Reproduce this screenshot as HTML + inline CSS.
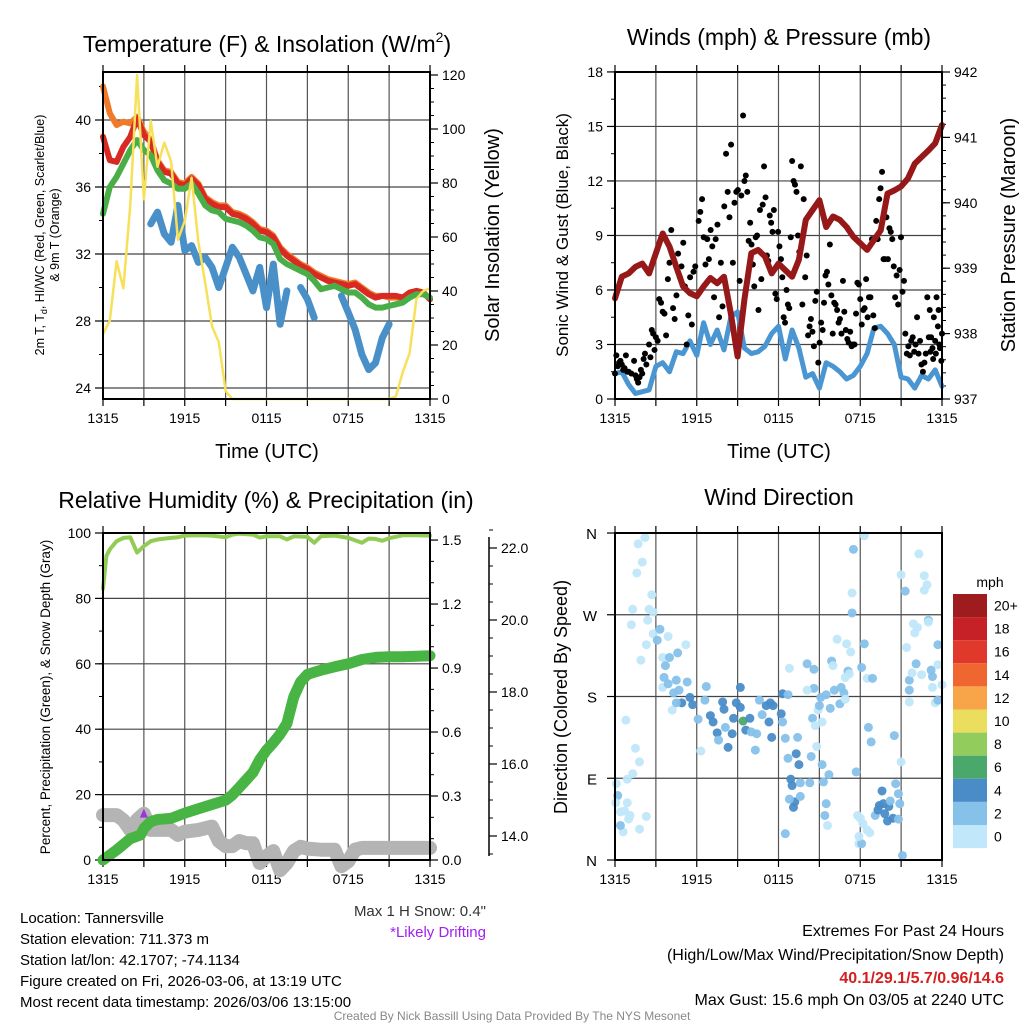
<!DOCTYPE html>
<html><head><meta charset="utf-8">
<style>
html,body{margin:0;padding:0;background:#fff;}
svg{display:block;font-family:"Liberation Sans",Arial,sans-serif;}
</style></head>
<body>
<svg id="chart" width="1024" height="1024" viewBox="0 0 1024 1024" xmlns="http://www.w3.org/2000/svg">
<rect width="1024" height="1024" fill="#fff"/>
<text x="267" y="52" font-size="23" text-anchor="middle">Temperature (F) &amp; Insolation (W/m<tspan font-size="14" dy="-10">2</tspan><tspan dy="10">)</tspan></text>
<text x="779" y="45" font-size="23" text-anchor="middle">Winds (mph) &amp; Pressure (mb)</text>
<text x="266" y="508" font-size="23" text-anchor="middle">Relative Humidity (%) &amp; Precipitation (in)</text>
<text x="779" y="505" font-size="23" text-anchor="middle">Wind Direction</text>
<text x="267" y="458" font-size="20" text-anchor="middle">Time (UTC)</text>
<text x="779" y="458" font-size="20" text-anchor="middle">Time (UTC)</text>
<text transform="translate(44,235) rotate(-90)" font-size="12.5" text-anchor="middle">2m T, T<tspan font-size="9" dy="3">d</tspan><tspan dy="-3">, HI/WC (Red, Green, Scarlet/Blue)</tspan></text>
<text transform="translate(59,235) rotate(-90)" font-size="12.5" text-anchor="middle">&amp; 9m T (Orange)</text>
<text transform="translate(499,235) rotate(-90)" font-size="20" text-anchor="middle">Solar Insolation (Yellow)</text>
<text transform="translate(568,235) rotate(-90)" font-size="17" text-anchor="middle">Sonic Wind &amp; Gust (Blue, Black)</text>
<text transform="translate(1015,235) rotate(-90)" font-size="20" text-anchor="middle">Station Pressure (Maroon)</text>
<text transform="translate(50,697) rotate(-90)" font-size="13.5" text-anchor="middle">Percent, Precipitation (Green), &amp; Snow Depth (Gray)</text>
<text transform="translate(567,697) rotate(-90)" font-size="18" text-anchor="middle">Direction (Colored By Speed)</text>
<text x="486" y="916" font-size="15" text-anchor="end" fill="#333">Max 1 H Snow: 0.4"</text>
<text x="486" y="937" font-size="15" text-anchor="end" fill="#a020f0">*Likely Drifting</text>
<g font-size="15">
<text x="20" y="923">Location: Tannersville</text>
<text x="20" y="944">Station elevation: 711.373 m</text>
<text x="20" y="965">Station lat/lon: 42.1707; -74.1134</text>
<text x="20" y="986">Figure created on Fri, 2026-03-06, at 13:19 UTC</text>
<text x="20" y="1007">Most recent data timestamp: 2026/03/06 13:15:00</text>
</g>
<g font-size="16" text-anchor="end">
<text x="1004" y="936">Extremes For Past 24 Hours</text>
<text x="1004" y="960">(High/Low/Max Wind/Precipitation/Snow Depth)</text>
<text x="1004" y="983" fill="#d42020" font-weight="bold">40.1/29.1/5.7/0.96/14.6</text>
<text x="1004" y="1005">Max Gust: 15.6 mph On 03/05 at 2240 UTC</text>
</g>
<text x="512" y="1020" font-size="12" text-anchor="middle" fill="#888">Created By Nick Bassill Using Data Provided By The NYS Mesonet</text>
<g id="layer"></g>
</svg>
<script>
// ---------- data ----------
const hrs = [0,0.5,1,1.5,2,2.5,3,3.5,4,4.5,5,5.5,6,6.5,7,7.5,8,8.5,9,9.5,10,10.5,11,11.5,12,12.5,13,13.5,14,14.5,15,15.5,16,16.5,17,17.5,18,18.5,19,19.5,20,20.5,21,21.5,22,22.5,23,23.5,24];
const xLabels = ['1315','1915','0115','0715','1315'];
const tempRed = [39.0,37.6,37.5,38.4,39.0,40.1,39.1,38.7,37.5,36.9,36.8,36.2,36.1,36.5,36.1,35.3,35.0,34.8,34.8,34.4,34.3,34.1,33.8,33.4,33.3,33.0,32.3,31.9,31.6,31.3,31.1,30.8,30.6,30.4,30.3,30.2,30.1,30.2,29.9,29.6,29.4,29.5,29.5,29.5,29.4,29.7,29.8,29.7,29.3];
const temp9m = [42.0,40.4,39.7,39.9,39.8,40.2,39.3,38.8,37.6,37.0,36.9,36.3,36.2,36.6,36.2,35.4,35.1,34.9,34.9,34.5,34.4,34.2,33.9,33.5,33.4,33.1,32.4,32.0,31.7,31.4,31.2,30.9,30.7,30.5,30.4,30.3,30.2,30.3,30.0,29.7,29.5,29.5,29.4,29.4,29.4,29.6,29.8,29.7,29.3];
const tempHIWC = [34.4,36.0,36.6,37.4,38.2,38.8,38.2,37.9,37.0,36.4,36.2,35.9,35.9,36.2,35.6,34.9,34.6,34.5,34.1,34.0,33.9,33.7,33.4,33.0,32.9,32.6,31.7,31.4,31.2,31.0,30.8,30.4,29.9,30.0,30.1,29.9,29.7,29.7,29.4,29.0,28.8,28.8,28.9,29.0,29.1,29.4,29.6,29.6,29.4];
const dewpt = [null,null,null,null,null,null,null,33.8,34.5,33.2,32.7,34.9,32.2,32.5,31.5,31.8,31.2,30.0,31.2,32.4,31.8,30.8,29.8,31.2,28.8,31.4,27.8,29.8,null,30.0,29.3,28.2,null,29.3,null,29.5,28.5,27.5,26.0,25.1,25.5,27.0,27.8,null,null,null,null,null,null];
const solar = [24,29,51,41,72,120,74,103,86,95,88,59,66,82,58,43,27,21,3,0,0,0,0,0,0,0,0,0,0,0,0,0,0,0,0,0,0,0,0,0,0,0,0,1,10,17,37,40,41];
const windSpd = [1.4,1.5,0.8,0.3,0.4,0.5,1.8,2.0,1.5,2.6,2.5,3.2,2.4,4.2,3.0,3.8,2.7,4.5,4.8,2.8,2.5,2.6,2.9,3.6,4.0,2.2,3.8,2.8,1.2,1.4,0.6,2.0,1.8,1.5,1.1,1.3,1.8,2.5,3.9,4.0,3.6,3.0,1.2,1.1,0.6,1.3,1.1,1.6,0.7];
const pressure = [938.54,938.87,938.92,939.02,939.07,938.92,939.23,939.53,939.33,939.02,938.72,938.62,938.57,938.72,938.85,938.77,938.87,938.31,937.65,938.52,939.23,939.28,939.18,938.92,939.07,938.97,938.87,939.13,939.74,939.89,940.04,939.63,939.79,939.74,939.63,939.48,939.38,939.28,939.43,939.58,940.14,940.19,940.25,940.37,940.60,940.70,940.80,940.91,941.19];
const gustT = [0.0,0.1,0.2,0.3,0.4,0.5,0.6,0.7,0.8,0.9,1.0,1.2,1.4,1.5,1.6,1.7,1.8,1.9,2.0,2.1,2.2,2.3,2.5,2.6,2.7,2.8,2.9,3.0,
3.13,3.25,3.38,3.5,3.63,3.75,3.88,4.0,4.13,4.26,4.38,4.51,4.63,4.76,4.88,5.01,5.13,5.26,5.38,5.51,5.64,5.76,5.89,6.14,6.26,6.39,6.51,6.64,6.77,6.89,7.02,7.14,7.27,7.39,7.52,7.64,7.77,7.89,8.02,8.15,8.27,8.4,8.52,8.65,8.77,8.9,9.02,9.15,9.27,9.4,
9.5,9.6,9.71,9.81,9.92,10.02,10.12,10.22,10.33,10.43,10.53,10.64,10.74,10.84,10.94,11.05,11.15,11.25,11.36,11.46,11.56,11.66,11.77,11.87,11.97,12.07,12.18,12.28,12.38,12.48,12.59,12.69,12.79,12.9,13.0,
13.11,13.21,13.32,13.43,13.53,13.64,13.75,13.85,13.96,14.07,14.17,14.28,14.38,14.49,14.6,14.7,14.81,14.92,15.02,15.13,15.24,15.34,15.45,15.56,15.66,15.77,15.88,15.98,16.09,16.19,16.3,16.41,16.51,16.62,16.73,16.83,16.94,17.05,17.15,17.26,17.37,17.47,17.58,17.69,17.79,17.9,18.0,18.11,18.22,18.32,18.43,18.54,18.64,18.75,18.86,18.96,19.07,19.17,19.28,19.39,19.49,19.6,
19.71,19.81,19.92,20.03,20.14,20.24,20.35,20.46,20.56,20.67,20.78,20.89,20.99,21.1,21.21,21.31,21.42,21.53,21.64,21.74,21.85,21.96,22.06,22.17,22.28,22.39,22.49,22.6,22.71,22.81,22.92,23.03,
23.1,23.15,23.2,23.3,23.35,23.4,23.5,23.55,23.6,23.7,23.75,23.8,23.85,23.95,24.0];
const gustV = [1.4,2.4,1.8,2.0,2.1,1.9,1.6,1.7,2.4,1.5,1.5,1.4,2.1,1.3,1.1,0.9,1.2,1.6,1.4,2.2,2.5,1.9,3.0,2.3,3.8,3.6,2.7,3.4,3.2,5.5,5.3,4.8,4.7,3.5,6.6,7.5,9.3,5.0,4.4,5.7,8.0,6.7,7.3,8.6,6.2,3.0,4.6,6.7,4.1,7.0,7.3,9.8,10.3,11.0,8.9,7.4,8.8,7.7,9.3,8.4,5.6,8.8,9.6,4.5,7.5,5.1,10.6,13.5,11.4,10.0,14.0,7.5,10.8,11.4,11.5,6.5,11.2,15.6,12.0,12.3,11.4,8.7,9.7,8.5,7.4,6.2,8.9,9.0,4.9,10.4,6.6,10.7,12.8,11.1,7.9,7.6,10.1,9.7,9.2,10.4,5.8,5.5,9.2,8.4,7.7,6.7,4.5,4.2,6.0,5.2,5.0,8.9,13.1,12.0,11.8,11.4,9.0,8.1,12.8,5.2,11.0,6.7,7.9,3.5,4.0,4.4,3.7,2.9,5.4,5.9,2.0,3.1,4.2,3.8,5.3,6.8,7.0,6.3,8.5,5.7,3.6,5.3,5.2,4.9,4.2,4.4,3.6,6.5,4.8,3.8,3.3,3.1,3.7,2.9,3.0,3.0,4.7,6.4,6.3,5.5,4.1,4.9,5.0,6.6,4.5,5.6,5.6,8.8,4.6,3.9,9.8,8.8,11.0,11.6,12.5,7.7,7.7,10.0,7.7,9.4,9.2,8.8,7.3,5.6,6.8,5.2,7.1,8.9,5.9,6.5,3.6,2.5,2.9,2.4,3.2,3.4,2.6,3.0,4.5,2.5,3.2,1.9,1.5,2.0,2.5,5.6,3.4,4.9,2.6,3.4,2.8,2.2,4.5,3.2,2.5,5.6,4.0,4.9,3.0,2.8,2.1,3.6];
const rhHrs = [0,0.25,0.5,1,1.5,2,2.5,3,3.5,4,4.5,5,5.5,6,7,8,9,9.5,10,11,11.5,12,13,13.5,14,15,15.5,16,17,18,19,19.5,20,20.5,21,22,23,24];
const rh = [83,93,95,97.5,98.5,98.7,94,96,97.5,98,98.3,98.5,98.7,99.2,99.3,99.2,98.7,99.5,99.8,99.5,98.6,99,99,98,99,98.8,97,99,99.2,98.5,97,98.3,98.2,97.6,98.4,99.3,99.3,99.2];
const prHrs = [0,1,2,2.75,3,3.5,4,5,6,7,8,9,9.5,10,10.5,11,11.5,12,12.5,13,13.5,14,14.5,15,15.5,16,17,18,19,20,21,22,23,24];
const precip = [0,0.047,0.10,0.117,0.148,0.18,0.19,0.195,0.22,0.24,0.26,0.28,0.305,0.34,0.375,0.41,0.47,0.515,0.55,0.59,0.64,0.765,0.835,0.87,0.88,0.89,0.906,0.92,0.94,0.95,0.953,0.953,0.955,0.958];
const snHrs = [0,1,1.5,2,2.5,3,3.5,4,5,5.5,6,7,8,8.5,9,9.5,10,10.5,11,11.5,12,12.5,13,13.5,14,14.5,15,16,17,17.5,18,18.5,19,20,21,22,23,24];
const snow = [14.58,14.58,14.44,14.17,14.45,14.62,14.17,14.17,14.17,14.03,14.12,14.17,14.26,13.86,13.72,13.72,13.86,13.8,13.8,13.25,13.44,13.58,13.05,13.25,13.58,13.7,13.65,13.62,13.62,13.16,13.3,13.62,13.67,13.67,13.67,13.67,13.67,13.67];
const dirT = [0.1,0.2,0.05,0.4,0.6,0.4,0.7,0.9,1.0,1.1,0.9,1.3,1.5,1.8,1.8,2.3,0.8,1.6,1.7,2.2,2.0,1.3,1.2,2.5,2.7,2.4,2.8,2.8,2.3,1.9,3.3,3.1,3.9,3.5,3.7,4.0,3.6,3.5,3.9,4.5,4.6,5.2,4.3,4.7,5.3,4.9,5.5,4.2,4.5,5.7,6.1,6.7,6.6,7.0,7.2,7.5,7.6,7.9,8.0,8.1,8.3,8.6,8.7,8.9,9.2,9.2,9.4,9.9,9.6,10.0,10.4,10.6,10.8,11.1,11.3,11.4,11.6,11.5,12.2,12.3,12.3,12.7,12.8,10.3,6.3,12.5,12.7,13.4,13.3,13.5,12.9,13.0,13.2,13.1,12.8,12.5,13.6,13.6,14.3,14.4,14.5,14.6,14.1,14.6,14.1,14.7,14.8,15.2,14.9,15.0,15.1,15.3,15.5,15.4,15.6,15.2,15.7,15.5,15.8,15.9,16.0,16.3,16.1,16.5,16.6,16.8,16.9,17.0,17.1,17.3,17.2,16.9,17.4,17.4,17.5,17.7,17.8,18.0,18.2,18.3,17.9,18.1,17.9,18.5,18.7,18.1,18.3,18.5,18.9,18.6,18.8,19.1,19.3,19.6,19.7,19.4,19.8,20.0,20.1,20.2,20.4,20.5,20.6,20.8,20.9,20.8,21.0,21.1,21.0,21.3,21.4,21.6,21.6,21.6,21.8,22.0,21.9,22.1,22.2,22.3,22.5,22.7,22.7,22.9,23.0,23.0,23.2,23.3,23.3,23.5,23.7,23.7,23.7,24.0];
const dirDeg = [84,71,63,53,31,38,54,63,45,49,89,95,123,108,34,48,154,316,348,355,328,276,259,276,292,264,273,249,237,220,254,242,246,223,214,223,201,190,194,198,228,237,184,187,196,173,179,165,173,171,155,191,176,159,152,140,132,174,166,146,124,139,156,173,190,168,153,156,143,141,139,176,160,170,152,173,170,135,161,152,183,182,211,121,120,134,112,135,117,105,89,82,64,58,67,29,85,70,85,114,156,189,216,210,187,148,125,152,165,170,179,86,62,49,38,105,94,182,167,219,214,243,187,172,190,184,177,238,208,229,205,201,272,294,342,97,49,46,40,357,18,18,26,33,30,212,238,200,200,146,130,49,55,76,62,60,51,43,59,65,46,137,84,73,62,45,108,5,314,296,234,198,187,174,206,250,260,216,256,337,204,313,297,303,264,262,209,190,202,173,176,237,215,193];
const dirSpd = [1,3,1,1,1,3,1,1,1,1,1,1,1,1,1,1,1,1,1,1,1,1,1,1,1,1,1,1,1,1,3,3,1,1,3,3,3,1,3,3,3,1,3,3,3,5,5,1,3,5,3,3,3,5,5,5,3,5,5,3,5,5,5,5,5,5,7,5,5,3,3,3,3,5,5,5,5,5,5,3,5,3,1,3,1,3,3,3,5,5,5,5,5,5,3,3,3,3,3,3,3,3,3,3,1,1,1,1,1,3,3,3,3,3,1,3,3,3,3,3,1,1,3,3,3,3,1,1,3,1,1,1,3,1,3,3,1,1,1,1,1,3,1,1,1,3,3,1,3,3,3,3,5,5,5,5,5,5,5,3,5,3,3,3,3,3,1,3,1,3,1,3,3,1,1,1,1,3,1,1,1,1,1,1,3,1,3,1,3,1,3,3,1,1,1];
const cbLabels = ['20+','18','16','14','12','10','8','6','4','2','0'];
const cbColors = ['#9e1b1e','#c52127','#e0392b','#ef6631','#f7a548','#ebdd5e','#92cc5c','#4aa86b','#4a8cc8','#86c1ea','#c0e7fa'];

// ---------- helpers ----------
const NS='http://www.w3.org/2000/svg';
const layer=document.getElementById('layer');
function el(tag,attrs,parent){const e=document.createElementNS(NS,tag);for(const k in attrs)e.setAttribute(k,attrs[k]);(parent||layer).appendChild(e);return e;}
function group(name){const g=el('g',{});


return g;}
function xs(p,t){return p.x0+t/24*(p.x1-p.x0);}
function pathFrom(p,ts,vs,yf){let d='',pen=false;for(let i=0;i<ts.length;i++){if(vs[i]===null||vs[i]===undefined){pen=false;continue;}d+=(pen?'L':'M')+xs(p,ts[i]).toFixed(1)+' '+yf(vs[i]).toFixed(1);pen=true;}return d;}
function line(p,name,ts,vs,yf,color,w){const e=el('path',{d:pathFrom(p,ts,vs,yf),fill:'none',stroke:color,'stroke-width':w,'stroke-linejoin':'round','stroke-linecap':'round'});


return e;}
function frame(p,name){const g=group(name+'-grid');
for(let k=1;k<8;k++){const x=xs(p,k*3);const l=el('line',{x1:x,x2:x,y1:p.y0,y2:p.y1,stroke:'#555','stroke-width':1.2},g);


}
for(let k=0;k<=8;k++){const x=xs(p,k*3);const tk=el('line',{x1:x,x2:x,y1:p.y1,y2:p.y1+7,stroke:'#000','stroke-width':1.2},g);


const tt=el('line',{x1:x,x2:x,y1:p.y0-7,y2:p.y0,stroke:'#000','stroke-width':1.2},g);


}
xLabels.forEach((s,i)=>{const t=el('text',{x:xs(p,i*6),y:p.y1+24,'font-size':14,'text-anchor':'middle'},g);t.textContent=s;


});
return g;}
function hgrid(p,g,vals,yf){vals.forEach(v=>{const y=yf(v);const l=el('line',{x1:p.x0,x2:p.x1,y1:y,y2:y,stroke:'#444','stroke-width':1.2},g);


});}
function yaxis(g,x,side,majors,minors,yf,fmt,name){
const dir=side==='left'?-1:1;
minors.forEach(v=>{const y=yf(v);const l=el('line',{x1:x,x2:x+dir*4,y1:y,y2:y,stroke:'#000','stroke-width':1},g);


});
majors.forEach(v=>{const y=yf(v);const l=el('line',{x1:x,x2:x+dir*8,y1:y,y2:y,stroke:'#000','stroke-width':1.2},g);


const t=el('text',{x:x+dir*12,y:y+5,'font-size':14,'text-anchor':side==='left'?'end':'start'},g);t.textContent=fmt(v);


});}
function border(p,name){const r=el('rect',{x:p.x0,y:p.y0,width:p.x1-p.x0,height:p.y1-p.y0,fill:'none',stroke:'#000','stroke-width':2});

}
function range(a,b,s){const r=[];for(let v=a;v<=b+1e-9;v+=s)r.push(+v.toFixed(3));return r;}

// ---------- Panel 1 ----------
const P1={x0:103,x1:430,y0:72,y1:399};
const ty=v=>388-(v-24)*16.75, sy=v=>399-v*2.7;
let g1=frame(P1,'temp');
hgrid(P1,g1,[24,28,32,36,40],ty);
yaxis(g1,P1.x0,'left',[24,28,32,36,40],range(24,42,2),ty,v=>String(v),'temp-y');
yaxis(g1,P1.x1,'right',range(0,120,20),range(0,120,5),sy,v=>String(v),'solar-y');
line(P1,'temp-9m-line',hrs,temp9m,ty,'#f07a2a',6);
line(P1,'temp-2m-line',hrs,tempRed,ty,'#d82a22',6);
line(P1,'heat-index-windchill-line',hrs,tempHIWC,ty,'#4aae48',6);
line(P1,'dewpoint-line',hrs,dewpt,ty,'#4a90c8',7);
line(P1,'solar-line',hrs,solar,sy,'#f7e05a',2.5);
border(P1,'temp');

// ---------- Panel 2 ----------
const P2={x0:615,x1:942,y0:72,y1:399};
const wy=v=>399-v*18.17, py=v=>399-(v-937)*65.4;
let g2=frame(P2,'wind');
hgrid(P2,g2,[3,6,9,12,15],wy);
yaxis(g2,P2.x0,'left',range(0,18,3),range(0,18,1.5),wy,v=>String(v),'wind-y');
yaxis(g2,P2.x1,'right',range(937,942,1),range(937,942,0.2),py,v=>String(v),'pressure-y');
line(P2,'sonic-wind-line',hrs,windSpd,wy,'#4a96d2',5);
const gg=group('gust-points');
gustT.forEach((t,i)=>{const c=el('circle',{cx:xs(P2,t),cy:wy(gustV[i]),r:3,fill:'#000'},gg);


});
line(P2,'pressure-line',hrs,pressure,py,'#961818',6);
border(P2,'wind');

// ---------- Panel 3 ----------
const P3={x0:103,x1:430,y0:533,y1:860};
const pcy=v=>860-v*3.27, pry=v=>860-v*213.3, sny=v=>836-(v-14)*36;
let g3=frame(P3,'rh');
hgrid(P3,g3,[20,40,60,80],pcy);
yaxis(g3,P3.x0,'left',range(0,100,20),range(0,100,10),pcy,v=>String(v),'percent-y');
yaxis(g3,P3.x1,'right',range(0,1.5,0.3),range(0,1.5,0.1),pry,v=>v.toFixed(1),'precip-y');
const sa=el('line',{x1:489,x2:489,y1:537,y2:856,stroke:'#000','stroke-width':1.5});


const g3b=group('snow-axis');
yaxis(g3b,489,'right',range(14,22,2),range(13.5,22.5,0.5),sny,v=>v.toFixed(1),'snow-y');
line(P3,'snow-depth-line',snHrs,snow,sny,'#b4b4b4',14);
line(P3,'precip-line',prHrs,precip,pry,'#48b444',11);
line(P3,'rh-line',rhHrs,rh,pcy,'#92cc54',4);
const dm=el('path',{d:`M${xs(P3,3)-4} ${sny(14.62)+4} L${xs(P3,3)} ${sny(14.62)-5} L${xs(P3,3)+4} ${sny(14.62)+4}Z`,fill:'#a030e0'});


border(P3,'rh');

// ---------- Panel 4 ----------
const P4={x0:615,x1:942,y0:533,y1:860};
const dy=v=>860-v*0.9083;
let g4=frame(P4,'direction');
hgrid(P4,g4,[90,180,270],dy);
[['N',360],['W',270],['S',180],['E',90],['N',0]].forEach(([s,v])=>{const t=el('text',{x:597,y:dy(v)+6,'font-size':15,'text-anchor':'end'},g4);t.textContent=s;


const l=el('line',{x1:P4.x0-8,x2:P4.x0,y1:dy(v),y2:dy(v),stroke:'#000','stroke-width':1.2},g4);


});
function spdColor(s){const idx=Math.min(10,Math.floor(s/2));return cbColors[10-idx];}
const dg=group('direction-points');
dirT.forEach((t,i)=>{const c=el('circle',{cx:xs(P4,t),cy:dy(dirDeg[i]),r:4.5,fill:spdColor(dirSpd[i]),'fill-opacity':0.95},dg);


});
border(P4,'direction');

const cb=group('speed-colorbar');
const mt=el('text',{x:990,y:587,'font-size':14,'text-anchor':'middle'},cb);mt.textContent='mph';


cbLabels.forEach((s,i)=>{const y=594+i*23.1;
const r=el('rect',{x:953,y:y,width:34,height:23.1,fill:cbColors[i]},cb);


const t=el('text',{x:994,y:y+16.5,'font-size':14},cb);t.textContent=s;


});
</script>
</body></html>
